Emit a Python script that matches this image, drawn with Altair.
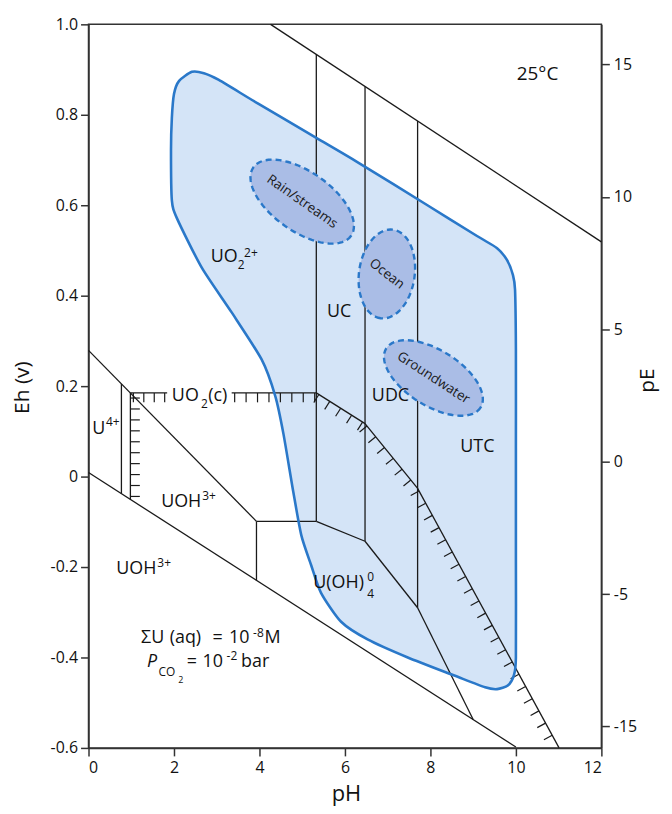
import math
import altair as alt
import pandas as pd

FONT = "Open Sans"

# ---------------- axes ----------------
PH_DOMAIN = [0, 12]
EH_DOMAIN = [-0.6, 1.0]
PE_DOMAIN = [-10.81, 16.52]
ph_ticks = [0, 2, 4, 6, 8, 10, 12]
eh_ticks = [-0.6, -0.4, -0.2, 0, 0.2, 0.4, 0.6, 0.8, 1.0]
eh_tick_labels = ["-0.6", "-0.4", "-0.2", "0", "0.2", "0.4", "0.6", "0.8", "1.0"]
pe_ticks = [-10, -5, 0, 5, 10, 15]
pe_tick_labels = ["-15", "-5", "0", "5", "10", "15"]

# ---------------- plain boundary lines (pH, Eh) ----------------
line_ph1 = [4.26, 0.00, 0.00, 3.93, 3.93, 5.33, 6.47, 7.70, 5.33, 6.47, 7.70, 0.77]
line_eh1 = [1.00, 0.009, 0.279, -0.099, -0.099, 0.9335, 0.8627, 0.7862, -0.099, -0.143, -0.290, 0.205]
line_ph2 = [12.0, 10.0, 3.93, 5.33, 3.93, 5.33, 6.47, 7.70, 6.47, 7.70, 9.00, 0.77]
line_eh2 = [0.519, -0.598, -0.099, -0.099, -0.2295, -0.099, -0.143, -0.290, -0.143, -0.290, -0.537, -0.0377]

# ---------------- hatched UO2(c) solubility boundary ----------------
hatch1_ph = [0.98, 0.98, 1.84]
hatch1_eh = [-0.0505, 0.185, 0.185]
hatch1_spacing = [11.0, 10.5]
hatch2_ph = [3.35, 5.33, 6.47, 7.70, 11.01]
hatch2_eh = [0.185, 0.185, 0.117, -0.026, -0.600]
hatch2_spacing = [11.5, 13.0, 14.0, 14.0]

# ---------------- natural-water field (blue region) ----------------
region_ph = [2.42, 2.70, 3.05, 3.98, 5.33, 6.30, 7.93, 9.09, 9.56, 9.79, 9.93, 9.98,
             10.0, 10.0, 10.0, 10.0, 9.95, 9.81, 9.56, 9.28, 8.56, 7.47, 6.53, 5.91,
             5.44, 5.21, 4.98, 4.79, 4.56, 4.37, 4.05, 3.35, 2.65, 2.07, 1.95, 1.93,
             1.95, 2.00, 2.12]
region_eh = [0.895, 0.892, 0.877, 0.824, 0.749, 0.695, 0.600, 0.532, 0.505, 0.479, 0.446, 0.413,
             0.281, 0.062, -0.180, -0.400, -0.440, -0.462, -0.470, -0.466, -0.440, -0.400, -0.360, -0.321,
             -0.257, -0.196, -0.130, -0.033, 0.095, 0.178, 0.259, 0.363, 0.462, 0.571, 0.611, 0.721,
             0.793, 0.846, 0.875]

# ---------------- water-type ellipses ----------------
ell_names = ["Rain/streams", "Ocean", "Groundwater"]
ell_ph = [5.00, 6.98, 8.07]
ell_eh = [0.608, 0.448, 0.218]
ell_a_px = [60, 45, 56]
ell_b_px = [30, 28, 28]
ell_angle = [35, 98, 32]
ell_text_angle = [35, 38, 33]

# ---------------- text pieces (text, pH, Eh, size) ----------------
txt_text = ["25°C", "UO", "2", "2+", "UC", "UDC", "UTC", "U", "4+", "UO", "2", "(c)",
            "UOH", "3+", "UOH", "3+", "U(OH)", "0", "4",
            "ΣU", "(aq)", "=", "10", "-8", "M",
            "CO", "2", "=", "10", "-2", "bar"]
txt_ph = [10.02, 2.86, 3.49, 3.64, 5.58, 6.63, 8.70, 0.09, 0.41, 1.95, 2.63, 2.80,
          1.70, 2.66, 0.65, 1.61, 5.26, 6.52, 6.52,
          1.23, 1.90, 2.90, 3.29, 3.85, 4.12,
          1.64, 2.10, 2.30, 2.67, 3.23, 3.57]
txt_eh = [0.890, 0.486, 0.468, 0.495, 0.363, 0.178, 0.066, 0.1055, 0.121, 0.178, 0.160, 0.178,
          -0.057, -0.042, -0.204, -0.191, -0.235, -0.222, -0.259,
          -0.356, -0.356, -0.356, -0.356, -0.345, -0.356,
          -0.433, -0.450, -0.411, -0.411, -0.397, -0.411]
txt_size = [19, 18, 12, 12, 18, 18, 18, 18, 12, 18, 12, 18,
            18, 12, 18, 12, 18, 12, 12,
            18, 18, 18, 18, 12, 18,
            12, 9, 18, 18, 12, 18]
ital_text = ["P"]
ital_ph = [1.37]
ital_eh = [-0.411]

# ================= derived geometry =================
W, H = 516, 728
SX = W / (PH_DOMAIN[1] - PH_DOMAIN[0])
SY = H / (EH_DOMAIN[1] - EH_DOMAIN[0])

seg_df = pd.DataFrame({"x": line_ph1, "y": line_eh1, "x2": line_ph2, "y2": line_eh2})


def poly_df(phs, ehs):
    return pd.DataFrame({"x": phs[:-1], "y": ehs[:-1], "x2": phs[1:], "y2": ehs[1:]})


hatch_lines = pd.concat([poly_df(hatch1_ph, hatch1_eh), poly_df(hatch2_ph, hatch2_eh)])


def hatch_ticks(phs, ehs, spacings, length=9.5, start=3.0):
    rows = []
    for i in range(len(phs) - 1):
        x0, y0 = phs[i] * SX, -ehs[i] * SY
        x1, y1 = phs[i + 1] * SX, -ehs[i + 1] * SY
        L = math.hypot(x1 - x0, y1 - y0)
        dx, dy = (x1 - x0) / L, (y1 - y0) / L
        nx, ny = -dy, dx
        d = start
        while d < L - 1:
            bx, by = x0 + dx * d, y0 + dy * d
            ex, ey = bx + nx * length, by + ny * length
            rows.append({"x": bx / SX, "y": -by / SY, "x2": ex / SX, "y2": -ey / SY})
            d += spacings[i]
    return rows


tick_df = pd.DataFrame(hatch_ticks(hatch1_ph, hatch1_eh, hatch1_spacing)
                       + hatch_ticks(hatch2_ph, hatch2_eh, hatch2_spacing))

region_df = pd.DataFrame({"x": region_ph, "y": region_eh, "i": range(len(region_ph))})

ell_rows = []
for k, name in enumerate(ell_names):
    th = math.radians(ell_angle[k])
    for j in range(73):
        t = 2 * math.pi * j / 72
        ex, ey = ell_a_px[k] * math.cos(t), ell_b_px[k] * math.sin(t)
        sx = ex * math.cos(th) - ey * math.sin(th)
        sy = ex * math.sin(th) + ey * math.cos(th)
        ell_rows.append({"name": name, "i": j, "x": ell_ph[k] + sx / SX, "y": ell_eh[k] - sy / SY})
ell_df = pd.DataFrame(ell_rows)
ell_lab = pd.DataFrame({"name": ell_names, "x": ell_ph, "y": ell_eh, "angle": ell_text_angle})

txt_df = pd.DataFrame({"t": txt_text, "x": txt_ph, "y": txt_eh, "size": txt_size})
ital_df = pd.DataFrame({"t": ital_text, "x": ital_ph, "y": ital_eh})

# ================= chart =================
xs = alt.Scale(domain=PH_DOMAIN, nice=False, zero=False)
ys = alt.Scale(domain=EH_DOMAIN, nice=False, zero=False)


def label_expr(vals, labs):
    expr = "datum.label"
    for v, l in zip(vals, labs):
        expr = f"abs(datum.value - ({v})) < 1e-6 ? '{l}' : ({expr})"
    return expr


AX = alt.Axis(values=ph_ticks, title="pH", titleFontSize=22, labelFontSize=16, tickSize=8,
              labelPadding=4, titleX=259, titleY=46, titleBaseline="middle", titleAlign="center")
AY = alt.Axis(values=eh_ticks, title="Eh (v)", titleFontSize=21, labelFontSize=16, tickSize=8,
              labelPadding=3, labelExpr=label_expr(eh_ticks, eh_tick_labels),
              titleX=-66, titleY=365, titleBaseline="middle", titleAlign="center", titleAngle=270)


def X(f="x"):
    return alt.X(f"{f}:Q", scale=xs, axis=AX)


def Y(f="y"):
    return alt.Y(f"{f}:Q", scale=ys, axis=AY)


BLUE = "#2a78c9"

fill = alt.Chart(region_df).mark_line(
    interpolate="cardinal-closed", tension=0.3, fill="#d4e4f7", strokeWidth=0
).encode(x=X(), y=Y(), order="i:Q")

lines = alt.Chart(seg_df).mark_rule(color="#1a1a1a", strokeWidth=1.3).encode(
    x=X(), y=Y(), x2="x2:Q", y2="y2:Q")
hlines = alt.Chart(hatch_lines).mark_rule(color="#1a1a1a", strokeWidth=1.3).encode(
    x=X(), y=Y(), x2="x2:Q", y2="y2:Q")
hticks = alt.Chart(tick_df).mark_rule(color="#1a1a1a", strokeWidth=1.2).encode(
    x=X(), y=Y(), x2="x2:Q", y2="y2:Q")

outline = alt.Chart(region_df).mark_line(
    interpolate="cardinal-closed", tension=0.3, color=BLUE, strokeWidth=2.6
).encode(x=X(), y=Y(), order="i:Q")

ells = alt.Chart(ell_df).mark_line(
    interpolate="linear-closed", fill="#aabde6", stroke=BLUE, strokeWidth=2.4, strokeDash=[6, 4]
).encode(x=X(), y=Y(), detail="name:N", order="i:Q")

ell_text = alt.Chart(ell_lab).mark_text(font=FONT, fontSize=13.5, color="#1a1a1a").encode(
    x=X(), y=Y(), text="name:N", angle=alt.Angle("angle:Q", scale=None))

texts = alt.Chart(txt_df).mark_text(font=FONT, align="left", baseline="middle", color="#111").encode(
    x=X(), y=Y(), text="t:N", size=alt.Size("size:Q", scale=None, legend=None))

ital = alt.Chart(ital_df).mark_text(font=FONT, align="left", baseline="middle", color="#111",
                                    fontSize=18, fontStyle="italic").encode(
    x=X(), y=Y(), text="t:N")

main = alt.layer(fill, lines, hlines, hticks, outline, ells, ell_text, texts, ital)

pe_df = pd.DataFrame({"x": [0, 0], "pe": PE_DOMAIN})
pe_layer = alt.Chart(pe_df).mark_point(opacity=0).encode(
    x=X(),
    y=alt.Y("pe:Q", scale=alt.Scale(domain=PE_DOMAIN, nice=False, zero=False), axis=alt.Axis(
        orient="right", values=pe_ticks, title="pE", titleFontSize=21, labelFontSize=16,
        tickSize=8, labelPadding=4, labelExpr=label_expr(pe_ticks, pe_tick_labels),
        titleX=46, titleY=358, titleBaseline="middle", titleAlign="center", titleAngle=270)),
)

chart = alt.layer(main, pe_layer).resolve_scale(y="independent").properties(
    width=W, height=H,
    autosize=alt.AutoSizeParams(type="none"),
    padding={"left": 81, "top": 14, "right": 63, "bottom": 58},
).configure_axis(
    grid=False, domainColor="#333", tickColor="#333", domainWidth=1.5, tickWidth=1.5,
    labelFont=FONT, titleFont=FONT, labelColor="#111", titleColor="#111",
    titleFontWeight="normal",
).configure_view(stroke="#333", strokeWidth=1.5)

chart.save("out.html", embed_options={"renderer": "svg", "actions": False})
